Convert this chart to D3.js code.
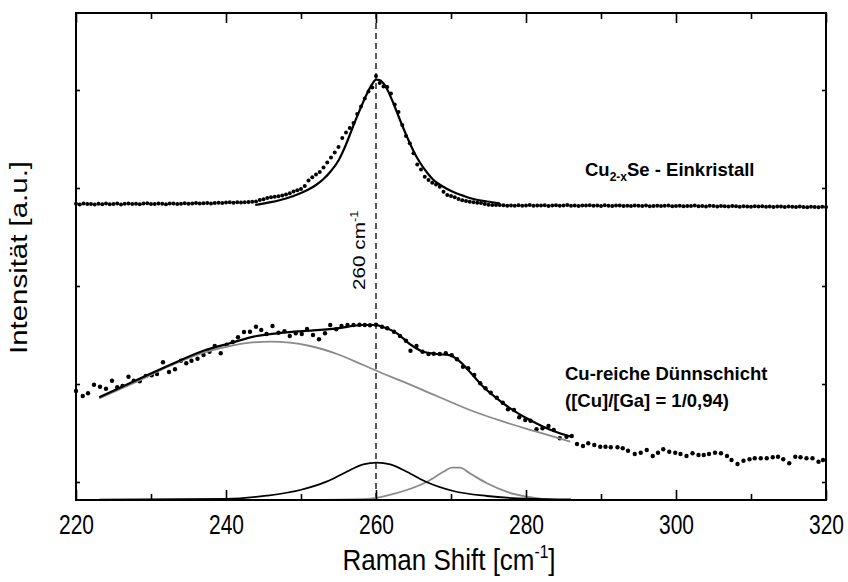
<!DOCTYPE html>
<html>
<head>
<meta charset="utf-8">
<script src="https://cdn.jsdelivr.net/npm/d3@7"></script>
<style>
  body { margin: 0; background: #fff; }
  text { font-family: "Liberation Sans", Arial, sans-serif; }
</style>
</head>
<body>
<svg id="chart" width="848" height="582"></svg>
<script>
// Raman spectra: Cu(2-x)Se single crystal and Cu-rich thin film with fitted components

// x tick labels (Raman shift, cm^-1)
const majorTicks = [220, 240, 260, 280, 300, 320];
const minorTicks = [230, 250, 270, 290, 310];
// unlabelled intensity ticks (a.u.)
const yTicks = [0, 98, 196, 294, 392];
const markerShift = 260;

// measured spectrum, single crystal: [shift, intensity]
const crystalScan = [
  [220,278.2],[220.5,277.6],[221,278.4],[221.5,277.9],[222,278.1],[222.5,277.5],[223,278.3],[223.5,277.8],
  [224,278.5],[224.5,277.7],[225,278.0],[225.5,278.4],[226,277.6],[226.5,278.2],[227,278.6],[227.5,277.9],
  [228,278.3],[228.5,277.8],[229,278.4],[229.5,278.7],[230,278.1],[230.5,277.9],[231,278.5],[231.5,278.2],
  [232,277.8],[232.5,278.4],[233,278.6],[233.5,278.0],[234,278.3],[234.5,278.8],[235,278.2],[235.5,278.5],
  [236,278.9],[236.5,278.4],[237,278.7],[237.5,279.1],[238,278.6],[238.5,279.0],[239,279.3],[239.5,278.9],
  [240,279.4],[240.5,279.7],[241,279.2],[241.5,279.8],
  [242,279.4],[242.5,279.8],[243,280.0],[243.5,280.2],[244,280.6],[244.5,282.0],[245,282.8],[245.5,283.9],
  [246,284.7],[246.5,285.2],[247,285.8],[247.5,286.6],[248,287.6],[248.5,288.7],[249,290.4],[249.5,291.8],
  [250,292.9],[250.5,296.0],[251,301.5],[251.5,304.8],[252,307.5],[252.5,310.0],[253,314.5],[253.5,319.5],
  [254,324.5],[254.5,329.5],[255,335.0],[255.5,344.0],[256,349.5],[256.5,354.0],[257,359.0],[257.5,368.0],
  [258,375.5],[258.5,383.5],[259,390.5],[259.5,394.5],[260,406.0],[260.5,399.0],[261,395.5],[261.5,395.0],
  [262,388.5],[262.5,377.5],[263,370.0],[263.5,357.0],[264,346.0],[264.5,338.7],[265,328.7],[265.5,317.5],
  [266,312.5],[266.5,305.3],[267,302.0],[267.5,299.3],[268,297.5],[268.5,295.3],[269,290.3],[269.5,287.0],
  [270,286.0],[270.5,284.8],[271,283.0],[271.5,281.8],[272,281.0],[272.5,280.3],[273,279.8],[273.5,279.3],
  [274,278.9],[274.5,278.0],[275,277.3],[275.5,277.1],[276,276.9],[276.5,277.0],[277,276.7],[277.5,276.3],
  [278,276.6],[278.5,276.2],[279,276.8],[279.5,276.3],[280,276.5],[280.5,276.9],[281,276.2],[281.5,276.6],
  [282,276.4],[282.5,276.8],[283,276.1],[283.5,276.5],[284,276.7],[284.5,276.2],[285,276.6],[285.5,276.9],
  [286,276.3],[286.5,276.5],[287,276.0],[287.5,276.6],[288,276.4],[288.5,276.8],[289,276.2],[289.5,276.5],
  [290,276.1],[290.5,276.7],[291,276.3],[291.5,276.0],[292,276.4],[292.5,276.6],[293,276.1],[293.5,276.3],
  [294,275.9],[294.5,276.5],[295,276.2],[295.5,276.0],[296,276.4],[296.5,275.8],[297,276.1],[297.5,276.3],
  [298,275.9],[298.5,276.2],[299,276.5],[299.5,275.8],[300,276.0],[300.5,276.3],[301,275.7],[301.5,276.1],
  [302,275.9],[302.5,276.4],[303,275.8],[303.5,276.0],[304,275.6],[304.5,276.2],[305,275.9],[305.5,275.5],
  [306,276.0],[306.5,275.8],[307,275.4],[307.5,275.9],[308,275.7],[308.5,275.3],[309,275.8],[309.5,275.6],
  [310,275.2],[310.5,275.7],[311,275.4],[311.5,275.8],[312,275.3],[312.5,275.5],[313,275.1],[313.5,275.6],
  [314,275.4],[314.5,275.0],[315,275.5],[315.5,275.2],[316,274.9],[316.5,275.4],[317,275.1],[317.5,274.8],
  [318,275.3],[318.5,275.0],[319,274.8],[319.5,275.2],[320,274.9]
];

// fitted line shape, single crystal
const crystalFit = [
  [243.9,277.0],[246.0,279.8],[248.0,283.5],[250.0,289.0],[251.0,292.5],[252.0,297.0],[253.0,303.0],
  [254.0,311.0],[255.0,321.5],[255.5,329.0],[256.0,337.5],[256.5,347.0],[257.2,360.5],[257.9,373.0],
  [258.5,383.5],[259.0,391.5],[259.5,398.0],[260.0,402.3],[260.5,402.0],[261.0,398.5],[261.4,394.0],
  [262.3,379.0],[263.2,362.0],[264.0,347.5],[264.5,339.0],[265.2,328.0],[265.9,319.0],[266.8,309.5],
  [267.6,302.5],[268.8,296.0],[270.3,290.0],[271.8,285.8],[273.0,283.0],[274.8,280.5],[276.5,278.7]
];

// measured spectrum, Cu-rich thin film
const filmScan = [
  [220.0,91],[220.9,86],[221.6,88.7],[222.4,97.3],[223.2,95.3],[224.0,93.3],[224.8,101.3],[225.5,94.7],
  [226.2,96],[227.0,105.3],[227.7,101.3],[228.5,100.7],[229.3,106],[230.1,106.7],[230.8,108],[231.6,119.7],
  [232.4,110],[233.2,112.7],[234.0,121.3],[234.7,118.7],[235.4,121.3],[236.2,123.3],[237.0,127],[237.8,130.3],
  [238.5,136],[239.3,128.7],[240.1,137.3],[240.9,140],[241.6,144.7],[242.4,150],[243.2,150.3],[244.0,155.3],
  [244.7,152],[245.4,148],[246.2,156],[247.0,149.3],[247.8,150.7],[248.5,146],[249.3,148.7],[250.1,148],
  [250.8,153],[251.6,147],[252.4,142.7],[253.2,148.7],[253.9,157],[254.7,152.7],[255.4,156],[256.2,157],
  [257.0,157],[257.8,157.3],[258.5,157],[259.2,156.7],[260.0,157.3],[260.8,155.3],[261.5,153.7],[262.4,150.3],
  [263.2,146],[264.0,141.3],[264.6,131.3],[265.4,136],[266.2,130.3],[267.0,128],[267.7,128.3],[268.5,128],
  [269.3,128.7],[270.1,126.7],[270.8,122.7],[271.6,115.3],[272.3,113.7],[273.1,107],[273.9,98.7],[274.6,93.7],
  [275.3,89.3],[276.1,84.3],[276.9,79.3],[277.6,72.7],[278.4,72],[279.1,64.7],[279.9,62],[280.6,61.3],
  [281.4,52.7],[282.2,53.7],[283.0,56],[283.7,52],[284.5,43.7],[285.4,45.3],[286.1,46],[286.8,38],
  [287.6,36],[288.3,38.7],[289.1,37],[289.9,35.3],[290.6,35.3],[291.3,34.7],[292.2,34.7],[292.9,33.7],
  [293.6,31.3],[294.5,28],[295.3,29.3],[296.1,32],[296.9,26],[297.6,29.3],[298.3,32.7],[299.1,30.3],
  [299.9,29.3],[300.6,28],[301.4,26],[302.2,28.7],[303.0,27],[303.7,27],[304.4,28],[305.2,29.3],
  [306.0,28.7],[306.8,26],[307.4,22],[308.2,18],[309.0,21.3],[309.8,22.7],[310.5,23.7],[311.3,23.7],
  [312.1,23.7],[312.9,24.7],[313.6,25.3],[314.3,22.7],[315.1,18.7],[315.9,25.3],[316.6,24.7],[317.4,23.7],
  [318.2,23.7],[319.0,20.3],[319.6,22]
];

// cumulative fit, thin film
const filmFit = [
  [223.1,84.7],[228.1,102],[232.5,117],[237.0,131.3],[240.5,138.7],[244.1,146],[247.6,149.3],[251.2,151.3],
  [254.8,153.7],[258.3,157],[260.1,157],[260.5,156],[262.8,148.7],[264.5,138],[266.3,130.3],[268.1,128],
  [269.9,126.7],[271.2,120.3],[272.5,110.3],[274.3,95.3],[276.1,83.7],[277.9,73.7],[280.1,63.7],
  [282.3,55.3],[284.5,48.7],[286.1,45.3]
];

// broad background component (grey)
const broadBand = [
  [223.1,83.7],[228.1,100.3],[232.5,116],[237.0,129.3],[240.5,136],[243.2,139.3],[245.9,140.3],[248.5,139.3],
  [251.2,136],[254.8,128],[258.3,117],[261.4,107],[263.6,100.3],[268.1,86],[272.5,72],[277.0,60.3],
  [281.4,50.3],[285.9,40.3]
];

// component centred near 260 cm^-1 (black)
const band260 = [
  [223.1,-17.6],[240.1,-17],[245.4,-13.7],[249.9,-8],[253.4,0.3],[256.1,10.3],[258.3,17.7],[260.1,19.3],
  [261.9,17.7],[264.1,10.3],[266.8,-0.3],[270.3,-9],[274.8,-14],[280.1,-16.7],[286.0,-17.5]
];

// component centred near 270 cm^-1 (grey)
const band270 = [
  [251.9,-18],[258.8,-17],[261.4,-13.7],[264.1,-8],[266.8,0.3],[269.0,10.3],[270.1,14.3],[271.2,14.3],
  [272.5,8.7],[274.8,-1.3],[277.4,-9.7],[280.1,-14.7],[283.6,-17.7],[286.0,-18]
];

const svg = d3.select("#chart");
const plot = { left: 76, right: 826, top: 13, bottom: 500 };

const x = d3.scaleLinear().domain([220, 320]).range([plot.left, plot.right]);
const y = d3.scaleLinear().domain([-18, 469]).range([plot.bottom, plot.top]);

const line = d3.line().x(d => x(d[0])).y(d => y(d[1])).curve(d3.curveMonotoneX);

// marker line at 260 cm^-1
svg.append("line")
  .attr("x1", x(markerShift)).attr("x2", x(markerShift))
  .attr("y1", plot.top).attr("y2", plot.bottom)
  .attr("stroke", "#000").attr("stroke-width", 1.3)
  .attr("stroke-dasharray", "6,4");

// data points
svg.append("g").selectAll("circle").data(crystalScan).join("circle")
  .attr("cx", d => x(d[0])).attr("cy", d => y(d[1])).attr("r", 2).attr("fill", "#000");
svg.append("g").selectAll("circle").data(filmScan).join("circle")
  .attr("cx", d => x(d[0])).attr("cy", d => y(d[1])).attr("r", 2.2).attr("fill", "#000");

// component and fit curves
const curves = [
  { data: broadBand, color: "#8a8a8a", w: 1.8 },
  { data: band270,   color: "#8a8a8a", w: 1.8 },
  { data: band260,   color: "#000",    w: 1.8 },
  { data: filmFit,   color: "#000",    w: 2.2 },
  { data: crystalFit, color: "#000",   w: 2.2 }
];
svg.append("g").selectAll("path").data(curves).join("path")
  .attr("d", c => line(c.data))
  .attr("fill", "none")
  .attr("stroke", c => c.color)
  .attr("stroke-width", c => c.w)
  .attr("stroke-linejoin", "round");

// axes with inward ticks on all four sides
const axisStyle = g => {
  g.select(".domain").remove();
  g.selectAll(".tick line").attr("stroke", "#000").attr("stroke-width", 1.6);
};
svg.append("g").attr("transform", `translate(0,${plot.bottom})`)
  .call(d3.axisBottom(x).tickValues(majorTicks).tickSize(-10).tickFormat(d3.format("d")))
  .call(axisStyle)
  .call(g => g.selectAll(".tick text")
    .attr("y", 0).attr("dy", null)
    .attr("transform", "translate(0,34) scale(1,1.35)")
    .attr("font-size", 21).attr("fill", "#000")
    .attr("font-family", '"Liberation Sans", Arial, sans-serif'));
svg.append("g").attr("transform", `translate(0,${plot.bottom})`)
  .call(d3.axisBottom(x).tickValues(minorTicks).tickSize(-6).tickFormat(""))
  .call(axisStyle);
svg.append("g").attr("transform", `translate(0,${plot.top})`)
  .call(d3.axisTop(x).tickValues(majorTicks).tickSize(-10).tickFormat(""))
  .call(axisStyle);
svg.append("g").attr("transform", `translate(0,${plot.top})`)
  .call(d3.axisTop(x).tickValues(minorTicks).tickSize(-6).tickFormat(""))
  .call(axisStyle);
svg.append("g").attr("transform", `translate(${plot.left},0)`)
  .call(d3.axisLeft(y).tickValues(yTicks).tickSize(-4).tickFormat(""))
  .call(axisStyle);
svg.append("g").attr("transform", `translate(${plot.right},0)`)
  .call(d3.axisRight(y).tickValues(yTicks).tickSize(-4).tickFormat(""))
  .call(axisStyle);

// frame
svg.append("rect")
  .attr("x", plot.left).attr("y", plot.top)
  .attr("width", plot.right - plot.left).attr("height", plot.bottom - plot.top)
  .attr("fill", "none").attr("stroke", "#000").attr("stroke-width", 2);

// axis titles (tall, narrow lettering)
const xTitle = svg.append("text")
  .attr("transform", `translate(${(plot.left + plot.right) / 2 - 2},570) scale(1.04,1.18)`)
  .attr("text-anchor", "middle").attr("font-size", 25).attr("fill", "#000");
xTitle.append("tspan").text("Raman Shift [cm");
xTitle.append("tspan").attr("font-size", 15).attr("dy", -10).text("-1");
xTitle.append("tspan").attr("dy", 10).text("]");

svg.append("text")
  .attr("transform", `translate(27,${(plot.top + plot.bottom) / 2 + 1}) rotate(-90) scale(1.28,1)`)
  .attr("text-anchor", "middle").attr("font-size", 23).attr("fill", "#000")
  .text("Intensität [a.u.]");

// peak position label
const peakLabel = svg.append("text")
  .attr("transform", `translate(${x(markerShift) - 11},290) rotate(-90) scale(1.22,1)`)
  .attr("font-size", 17).attr("fill", "#000");
peakLabel.append("tspan").text("260 cm");
peakLabel.append("tspan").attr("font-size", 10.5).attr("dy", -7.5).text("-1");

// sample labels
const crystalLabel = svg.append("text")
  .attr("x", 585).attr("y", 176)
  .attr("font-size", 18.5).attr("font-weight", "bold").attr("fill", "#000");
crystalLabel.append("tspan").text("Cu");
crystalLabel.append("tspan").attr("font-size", 12).attr("dy", 5).text("2-x");
crystalLabel.append("tspan").attr("dy", -5).text("Se - Einkristall");

svg.append("text")
  .attr("x", 565).attr("y", 380)
  .attr("font-size", 18.5).attr("font-weight", "bold").attr("fill", "#000")
  .text("Cu-reiche Dünnschicht");
svg.append("text")
  .attr("x", 565).attr("y", 407)
  .attr("font-size", 18.5).attr("font-weight", "bold").attr("fill", "#000")
  .text("([Cu]/[Ga] = 1/0,94)");
</script>
</body>
</html>
